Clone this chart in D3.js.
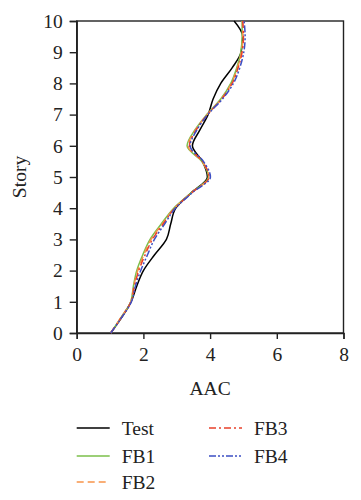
<!DOCTYPE html>
<html><head><meta charset="utf-8">
<script src="https://cdn.jsdelivr.net/npm/d3@7"></script>
<style>body{margin:0;background:#fff}svg{display:block}</style>
</head><body>
<script>
const stories = [0,0.5,1,1.5,2,2.5,3,3.5,4,4.5,5,5.5,6,6.5,7,7.5,8,8.5,9,9.5,10];
const testAAC = [1.02,1.35,1.63,1.80,2.00,2.33,2.69,2.82,2.97,3.44,3.92,3.77,3.47,3.69,3.94,4.09,4.32,4.66,4.93,4.98,4.72];
const fb1AAC  = [1.02,1.33,1.62,1.70,1.80,1.98,2.20,2.54,2.91,3.44,3.95,3.75,3.31,3.54,3.90,4.32,4.62,4.80,4.92,4.96,4.96];
const fb2AAC  = [1.02,1.33,1.62,1.71,1.83,2.01,2.23,2.57,2.93,3.45,3.96,3.76,3.34,3.56,3.91,4.34,4.64,4.82,4.94,4.98,4.97];
const fb3AAC  = [1.02,1.34,1.63,1.73,1.86,2.05,2.27,2.60,2.94,3.45,3.97,3.77,3.38,3.58,3.92,4.35,4.66,4.84,4.96,5.00,4.98];
const fb4AAC  = [1.02,1.35,1.64,1.76,1.92,2.12,2.33,2.64,2.96,3.47,4.01,3.80,3.40,3.60,3.93,4.37,4.70,4.89,5.01,5.05,5.02];
const seriesNames = ["Test","FB1","FB2","FB3","FB4"];
const xTicks = [0,2,4,6,8];
const yTicks = [0,1,2,3,4,5,6,7,8,9,10];

const seriesData = [testAAC, fb1AAC, fb2AAC, fb3AAC, fb4AAC];
const colors = ["#000000","#7bbf4a","#f7944a","#e8402a","#3d4fc4"];
const dashes = [null, null, "7,4", "7,3,2,3", "7,2,2,2,2,2"];

const W = 361, H = 500;
const m = {left:76.7, right:343.5, top:21, bottom:333};
const svg = d3.select("body").append("svg").attr("width",W).attr("height",H);
const x = d3.scaleLinear().domain([0,8]).range([m.left,m.right]);
const y = d3.scaleLinear().domain([0,10]).range([m.bottom,m.top]);
const font = "'Liberation Serif','Times New Roman',serif";
const axisColor = "#222";
const fs = 19.5;

svg.append("rect").attr("x",m.left).attr("y",m.top).attr("width",m.right-m.left).attr("height",m.bottom-m.top)
  .attr("fill","none").attr("stroke",axisColor).attr("stroke-width",1.4);

const gx = svg.append("g").attr("transform",`translate(0,${m.bottom})`)
  .call(d3.axisBottom(x).tickValues(xTicks).tickSize(6).tickPadding(8).tickFormat(d3.format("d")));
const gy = svg.append("g").attr("transform",`translate(${m.left},0)`)
  .call(d3.axisLeft(y).tickValues(yTicks).tickSize(7).tickPadding(7).tickFormat(d3.format("d")));
[gx,gy].forEach(g=>{
  g.select(".domain").attr("stroke",axisColor).attr("stroke-width",1.4);
  g.selectAll(".tick line").attr("stroke",axisColor).attr("stroke-width",1.4);
  g.selectAll(".tick text").attr("font-family",font).attr("font-size",fs).attr("fill","#222");
});

svg.append("text").attr("x",(m.left+m.right)/2).attr("y",395).attr("text-anchor","middle")
  .attr("font-family",font).attr("font-size",fs).attr("fill","#222").text("AAC");
svg.append("text").attr("transform",`translate(26,${(m.top+m.bottom)/2}) rotate(-90)`).attr("text-anchor","middle")
  .attr("font-family",font).attr("font-size",fs).attr("fill","#222").text("Story");

const line = d3.line().x(d=>x(d[0])).y(d=>y(d[1])).curve(d3.curveMonotoneY);
seriesData.forEach((vals,i)=>{
  const pts = stories.map((s,k)=>[vals[k], s]);
  svg.append("path").datum(pts).attr("d",line).attr("fill","none")
    .attr("stroke",colors[i]).attr("stroke-width",1.5)
    .attr("stroke-dasharray",dashes[i]);
});

const legPos = [[76.7,428],[76.7,456],[76.7,482],[209,428],[209,456]];
seriesNames.forEach((n,i)=>{
  const [lx,ly] = legPos[i];
  svg.append("line").attr("x1",lx).attr("x2",lx+33).attr("y1",ly).attr("y2",ly)
    .attr("stroke",colors[i]).attr("stroke-width",1.5).attr("stroke-dasharray",dashes[i]);
  svg.append("text").attr("x",lx+45).attr("y",ly).attr("dy","0.35em")
    .attr("font-family",font).attr("font-size",fs).attr("fill","#222").text(n);
});
</script>
</body></html>
